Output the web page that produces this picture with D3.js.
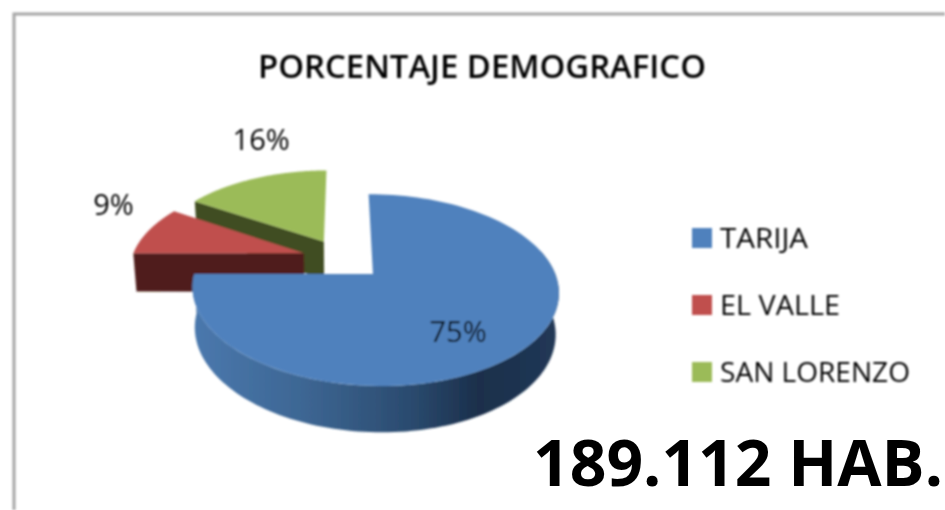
<!DOCTYPE html>
<html>
<head>
<meta charset="utf-8">
<script src="https://cdn.jsdelivr.net/npm/d3@7"></script>
<style>
  html, body { margin: 0; padding: 0; background: #fff; overflow: hidden; }
  text { font-family: "Open Sans", sans-serif; fill: #000; }
</style>
</head>
<body>
<div id="chart"></div>
<script>
// Values
var categories = ["TARIJA", "EL VALLE", "SAN LORENZO"];
var percentages = [75, 9, 16];
var chartTitle = "PORCENTAJE DEMOGRAFICO";
var totalNote = "189.112 HAB.";

// Colours of each slice: top face and the darker cut face
var topColors = ["#4f81bd", "#c0504d", "#9bbb59"];
var sideColors = ["#1f3552", "#4f1e1b", "#404d20"];

var width = 945, height = 510;

// Perspective set-up of the tilted pie
var view = {cx: 343, cy: 259, rx: 175, ry: 88, tiltV: 0.163, tiltU: 0.01, depth: 39, shrink: 0.985, explode: 0.235};

// Where the percent labels go: radius on the disc plus a nudge in pixels
var labelRadius = [0.6, 1.2, 1.2];
var labelNudge = [[0, 15], [-6, -22], [18, -28]];

var svg = d3.select("#chart").append("svg")
    .attr("width", width)
    .attr("height", height);

var defs = svg.append("defs");
defs.append("filter").attr("id", "soft")
    .attr("x", "-5%").attr("y", "-5%").attr("width", "110%").attr("height", "110%")
    .append("feGaussianBlur").attr("stdDeviation", 0.9);

var wall = defs.append("linearGradient").attr("id", "blueWall")
    .attr("gradientUnits", "userSpaceOnUse")
    .attr("x1", 195).attr("x2", 558).attr("y1", 0).attr("y2", 0);
wall.selectAll("stop")
    .data([[0, "#4a78ad"], [0.3, "#3d6693"], [0.6, "#2a4a6e"], [0.78, "#1b2f4b"], [1, "#213856"]])
    .enter().append("stop")
    .attr("offset", function(d) { return d[0]; })
    .attr("stop-color", function(d) { return d[1]; });

// Frame of the slide picture, cut off on the right and at the bottom
var chart = svg.append("g").attr("filter", "url(#soft)");
chart.append("path")
    .attr("d", "M14,510V14H945")
    .attr("fill", "none")
    .attr("stroke", "#a6a6a6")
    .attr("stroke-width", 3);

// Angles come from d3.pie, clockwise from the top
var slices = d3.pie().sort(null)(percentages);
slices.forEach(function(s) {
    var mid = (s.startAngle + s.endAngle) / 2;
    s.mid = mid;
    s.ou = view.explode * Math.sin(mid);
    s.ov = -view.explode * Math.cos(mid);
});

// Disc coordinates (u right, v towards viewer) to pixels; lower = bottom face of the slab
function project(u, v, lower) {
    var s = 1 / (1 - view.tiltV * v - view.tiltU * u);
    var c = lower ? view.shrink : 1;
    return [
        view.cx + view.rx * u * s * c,
        view.cy + view.ry * v * s * c + (lower ? view.depth * s : 0)
    ];
}

function rimPoint(s, angle, r, lower) {
    return project(s.ou + r * Math.sin(angle), s.ov - r * Math.cos(angle), lower);
}

function rim(s, a0, a1, lower) {
    return d3.range(0, 121).map(function(i) {
        return rimPoint(s, a0 + (a1 - a0) * i / 120, 1, lower);
    });
}

var line = d3.line();

// The cut face along the edge at a given angle
function cutFace(s, angle) {
    return line([
        rimPoint(s, angle, 0, false),
        rimPoint(s, angle, 1, false),
        rimPoint(s, angle, 1, true),
        rimPoint(s, angle, 0, true)
    ]) + "Z";
}

function topFace(s) {
    return line([rimPoint(s, 0, 0, false)].concat(rim(s, s.startAngle, s.endAngle, false))) + "Z";
}

// Back slices first, the big blue one goes over them
[2, 1].forEach(function(i) {
    var s = slices[i];
    chart.append("path").attr("d", cutFace(s, s.startAngle)).attr("fill", sideColors[i]);
    chart.append("path").attr("d", topFace(s)).attr("fill", topColors[i]);
});

// Outer wall of the blue slice
var blue = slices[0];
var wallFrom = 75 * Math.PI / 180;
chart.append("path")
    .attr("d", line(rim(blue, wallFrom, blue.endAngle, false).concat(rim(blue, wallFrom, blue.endAngle, true).reverse())) + "Z")
    .attr("fill", "url(#blueWall)");
chart.append("path").attr("d", topFace(blue)).attr("fill", topColors[0]);

// Percent labels
chart.selectAll(".pct")
    .data(slices)
    .enter().append("text")
    .attr("class", "pct")
    .attr("x", function(d, i) { return rimPoint(d, d.mid, labelRadius[i], false)[0] + labelNudge[i][0]; })
    .attr("y", function(d, i) { return rimPoint(d, d.mid, labelRadius[i], false)[1] + labelNudge[i][1]; })
    .attr("dy", "0.36em")
    .attr("text-anchor", "middle")
    .style("font-size", "29px")
    .text(function(d) { return d.value + "%"; });

// Title
chart.append("text")
    .attr("x", 482)
    .attr("y", 78)
    .attr("text-anchor", "middle")
    .attr("textLength", 448)
    .attr("lengthAdjust", "spacingAndGlyphs")
    .style("font-size", "33px")
    .style("font-weight", 600)
    .text(chartTitle);

// Legend
var legendY = d3.scalePoint().domain(categories).range([238, 372]);
var legendWidths = [88, 120, 190];
var legend = chart.selectAll(".legend")
    .data(categories)
    .enter().append("g")
    .attr("class", "legend")
    .attr("transform", function(d) { return "translate(692," + legendY(d) + ")"; });
legend.append("rect")
    .attr("y", -10)
    .attr("width", 20)
    .attr("height", 20)
    .attr("fill", function(d, i) { return topColors[i]; });
legend.append("text")
    .attr("x", 28)
    .attr("dy", "0.36em")
    .attr("textLength", function(d, i) { return legendWidths[i]; })
    .attr("lengthAdjust", "spacingAndGlyphs")
    .style("font-size", "27px")
    .text(function(d) { return d; });

// Total written on the slide, sharp and black
svg.append("text")
    .attr("x", 533)
    .attr("y", 486)
    .attr("textLength", 410)
    .attr("lengthAdjust", "spacingAndGlyphs")
    .style("font-size", "64px")
    .style("font-weight", 700)
    .style("fill", "#000")
    .text(totalNote);
</script>
</body>
</html>
